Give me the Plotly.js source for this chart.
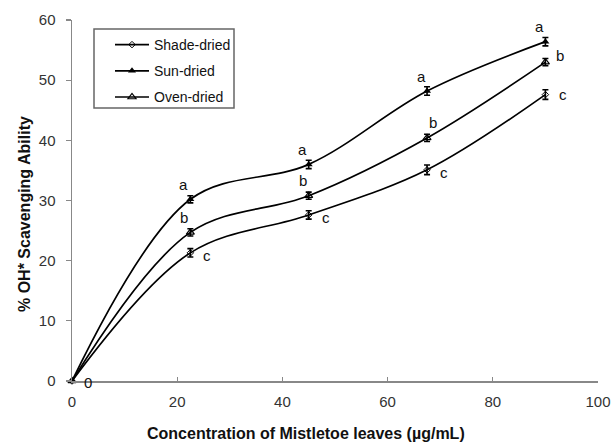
<!DOCTYPE html>
<html>
<head>
<meta charset="utf-8">
<script src="https://cdn.plot.ly/plotly-3.0.1.min.js"></script>
<style>
  html, body { margin: 0; padding: 0; background: #fff; }
  #chart { width: 615px; height: 442px; }
</style>
</head>
<body>
<div id="chart"></div>
<script>
// Concentrations (µg/mL)
const concentration = [0, 22.5, 45, 67.5, 90];

// % OH* scavenging ability for each drying method
const shadeDried = [0, 21.3, 27.6, 35.1, 47.6];
const sunDried   = [0, 30.2, 36.0, 48.2, 56.4];
const ovenDried  = [0, 24.7, 30.8, 40.4, 53.0];

// Standard deviations
const shadeErr = [0, 0.7, 0.7, 0.8, 0.8];
const sunErr   = [0, 0.6, 0.7, 0.7, 0.7];
const ovenErr  = [0, 0.6, 0.6, 0.6, 0.6];

// Significance letters
const sunLetters   = ['', 'a', 'a', 'a', 'a'];
const ovenLetters  = ['', 'b', 'b', 'b', 'b'];
const shadeLetters = ['', 'c', 'c', 'c', 'c'];

const FONT = 'Arial, "Liberation Sans", sans-serif';
const lineStyle = { color: '#000', width: 1.7, shape: 'spline', smoothing: 1 };
const errStyle = (arr) => ({ type: 'data', array: arr, visible: true, color: '#000', thickness: 1.6, width: 3 });

const traces = [
  {
    name: 'Shade-dried', legendgroup: 'shade', x: concentration, y: shadeDried, mode: 'lines+markers',
    line: lineStyle, error_y: errStyle(shadeErr),
    marker: { symbol: 'diamond-open', size: 5, color: '#000', line: { width: 1, color: '#000' } },
    cliponaxis: false
  },
  {
    name: 'Sun-dried', legendgroup: 'sun', x: concentration, y: sunDried, mode: 'lines+markers',
    line: lineStyle, error_y: errStyle(sunErr),
    marker: { symbol: 'triangle-up', size: 7, color: '#000' },
    cliponaxis: false
  },
  {
    name: 'Oven-dried', legendgroup: 'oven', x: concentration, y: ovenDried, mode: 'lines+markers',
    line: lineStyle, error_y: errStyle(ovenErr),
    marker: { symbol: 'triangle-up-open', size: 7, color: '#000', line: { width: 1.2, color: '#000' } },
    cliponaxis: false
  }
];

// Letter placement: a above, b above (right at the last point), c to the right
const annotations = [];
const letterFont = { family: FONT, size: 15, color: '#111' };
function addLetters(ys, letters, placer) {
  letters.forEach((t, i) => {
    if (!t) return;
    const off = placer(i);
    annotations.push({
      x: concentration[i], y: ys[i], xref: 'x', yref: 'y', text: t, showarrow: false,
      xshift: off[0], yshift: off[1], font: letterFont
    });
  });
}
addLetters(sunDried, sunLetters, i => i === 1 ? [-7, 15] : [-6, 15]);
addLetters(ovenDried, ovenLetters, i => i === 4 ? [15, 7] : (i === 3 ? [6, 15] : [-6, 15]));
addLetters(shadeDried, shadeLetters, i => i === 4 ? [18, 0] : [17, -3]);
annotations.push({
  x: concentration[0], y: shadeDried[0], xref: 'x', yref: 'y', text: String(shadeDried[0]),
  showarrow: false, xshift: 16, yshift: -1, font: letterFont
});

// Axis titles
annotations.push({
  xref: 'paper', yref: 'paper', x: (306 - 72) / 526, y: -(433 - 381) / 361,
  text: 'Concentration of Mistletoe leaves (µg/mL)', showarrow: false,
  xanchor: 'center', yanchor: 'middle',
  font: { family: FONT, size: 16, color: '#111', weight: 'bold' }
});
annotations.push({
  xref: 'paper', yref: 'paper', x: -(72 - 24) / 526, y: (381 - 214) / 361,
  text: '% OH* Scavenging Ability', showarrow: false, textangle: -90,
  xanchor: 'center', yanchor: 'middle',
  font: { family: FONT, size: 16, color: '#111', weight: 'bold' }
});

const axisFont = { family: FONT, size: 15, color: '#333' };

const px2x = (p) => (p - 72) / 526;
const px2y = (p) => (381 - p) / 361;

const layout = {
  width: 615, height: 442,
  margin: { l: 72, r: 17, t: 20, b: 61 },
  paper_bgcolor: '#fff', plot_bgcolor: '#fff',
  showlegend: true,
  legend: {
    x: px2x(110), y: px2y(29), xanchor: 'left', yanchor: 'top',
    bgcolor: 'rgba(0,0,0,0)', borderwidth: 0,
    font: { family: FONT, size: 14, color: '#111' },
    tracegroupgap: 5, itemwidth: 34, traceorder: 'grouped'
  },
  // legend frame
  shapes: [{
    type: 'rect', xref: 'paper', yref: 'paper',
    x0: px2x(94), x1: px2x(234), y0: px2y(108), y1: px2y(29),
    line: { color: '#666', width: 1.5 }, fillcolor: 'rgba(0,0,0,0)', layer: 'below'
  }],
  xaxis: {
    range: [0, 100], dtick: 20, tick0: 0,
    showgrid: false, zeroline: false,
    showline: true, linecolor: '#888', linewidth: 1.5,
    ticks: 'inside', ticklen: 4, tickcolor: '#888', tickwidth: 1.2,
    ticklabelstandoff: 6,
    tickfont: axisFont
  },
  yaxis: {
    range: [0, 60], dtick: 10, tick0: 0,
    showgrid: false, zeroline: false,
    showline: true, linecolor: '#888', linewidth: 1.5,
    ticks: 'outside', ticklen: 5, tickcolor: '#888', tickwidth: 1.2,
    ticklabelstandoff: 7,
    tickfont: axisFont
  },
  annotations: annotations
};

Plotly.newPlot('chart', traces, layout, { displayModeBar: false, staticPlot: true });
</script>
</body>
</html>
